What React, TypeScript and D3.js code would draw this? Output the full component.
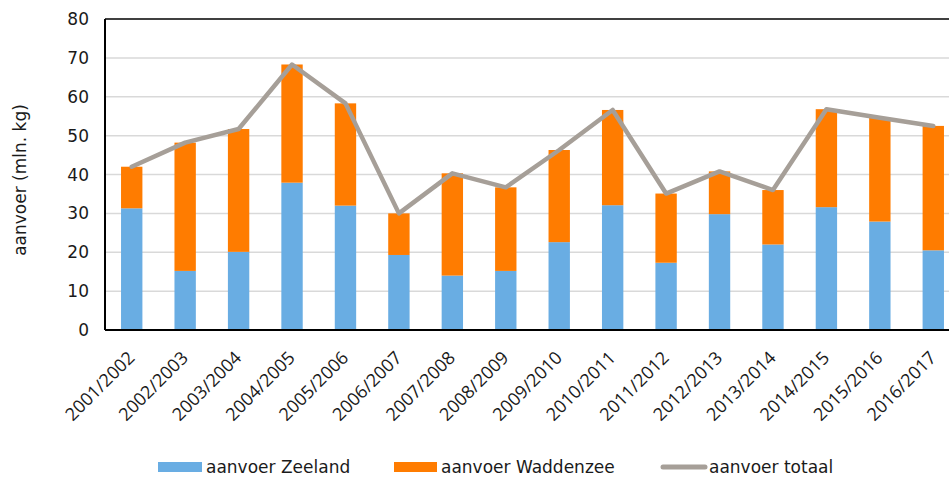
import React from "react";
import * as d3 from "d3";

const seizoenen = [
  "2001/2002", "2002/2003", "2003/2004", "2004/2005", "2005/2006", "2006/2007",
  "2007/2008", "2008/2009", "2009/2010", "2010/2011", "2011/2012", "2012/2013",
  "2013/2014", "2014/2015", "2015/2016", "2016/2017",
];
const zeeland = [31.3, 15.2, 20.1, 37.9, 32.0, 19.3, 14.0, 15.2, 22.6, 32.1, 17.3, 29.8, 22.0, 31.6, 27.9, 20.5];
const waddenzee = [10.7, 33.0, 31.6, 30.4, 26.3, 10.7, 26.3, 21.5, 23.7, 24.5, 17.8, 11.0, 14.0, 25.2, 26.7, 32.0];
const totaal = [42.0, 48.2, 51.7, 68.3, 58.3, 30.0, 40.3, 36.7, 46.3, 56.6, 35.1, 40.8, 36.0, 56.8, 54.6, 52.5];
const yTicks = [0, 10, 20, 30, 40, 50, 60, 70, 80];
const legendItems = ["aanvoer Zeeland", "aanvoer Waddenzee", "aanvoer totaal"];

const W = 949;
const H = 478;
const M = { left: 105, top: 19, right: 960, bottom: 330 };
const BLUE = "#69ade3";
const ORANGE = "#ff7c00";
const GREY = "#a69f98";
const FONT_Y = "DejaVu Sans, Verdana, sans-serif";
const FONT_X = "Open Sans, sans-serif";

export default function App() {
  const x = d3.scaleBand<string>().domain(seizoenen).range([M.left, M.right]).paddingInner(0.6).paddingOuter(0.3);
  const y = d3.scaleLinear().domain([0, 80]).range([M.bottom, M.top]);
  const bw = x.bandwidth();
  const cx = (s: string) => (x(s) as number) + bw / 2;
  const line = d3
    .line<number>()
    .x((_, i) => cx(seizoenen[i]))
    .y((d) => y(d));

  return (
    <svg width={W} height={H} style={{ position: "absolute", left: 0, top: 0, background: "#fff" }}>
      {yTicks.map((t) => (
        <g key={t}>
          {t > 0 && t < 80 && (
            <line x1={M.left} x2={M.right} y1={y(t)} y2={y(t)} stroke="#d9d9d9" strokeWidth={1.5} />
          )}
          <text x={89} y={y(t)} dy="0.36em" textAnchor="end" fontFamily={FONT_Y} fontSize={17} fill="#1a1a1a">
            {t}
          </text>
        </g>
      ))}
      {seizoenen.map((s, i) => (
        <g key={s}>
          <rect x={x(s)} width={bw} y={y(zeeland[i])} height={y(0) - y(zeeland[i])} fill={BLUE} />
          <rect
            x={x(s)}
            width={bw}
            y={y(zeeland[i] + waddenzee[i])}
            height={y(zeeland[i]) - y(zeeland[i] + waddenzee[i])}
            fill={ORANGE}
          />
        </g>
      ))}
      <path d={line(totaal) || ""} fill="none" stroke={GREY} strokeWidth={4.5} strokeLinejoin="round" strokeLinecap="round" />
      <line x1={M.left} x2={M.right} y1={M.top} y2={M.top} stroke="#000" strokeWidth={1.5} />
      <line x1={M.left} x2={M.right} y1={M.bottom} y2={M.bottom} stroke="#000" strokeWidth={2} />
      <line x1={M.left} x2={M.left} y1={M.top} y2={M.bottom} stroke="#000" strokeWidth={2} />
      {seizoenen.map((s) => (
        <text
          key={s}
          transform={`translate(${cx(s) + 4},${359}) rotate(-45)`}
          textAnchor="end"
          fontFamily={FONT_X}
          fontSize={18}
          fill="#1a1a1a"
        >
          {s}
        </text>
      ))}
      <text
        transform={`translate(26,180) rotate(-90)`}
        textAnchor="middle"
        fontFamily={FONT_Y}
        fontSize={17}
        fill="#1a1a1a"
      >
        aanvoer (mln. kg)
      </text>
      <g fontFamily={FONT_Y} fontSize={17} fill="#1a1a1a">
        <rect x={158} y={462} width={44} height={10} fill={BLUE} />
        <text x={206} y={467} dy="0.36em">{legendItems[0]}</text>
        <rect x={394} y={462} width={43} height={10} fill={ORANGE} />
        <text x={441} y={467} dy="0.36em">{legendItems[1]}</text>
        <line x1={663} x2={705} y1={467} y2={467} stroke={GREY} strokeWidth={5} strokeLinecap="round" />
        <text x={709} y={467} dy="0.36em">{legendItems[2]}</text>
      </g>
    </svg>
  );
}
